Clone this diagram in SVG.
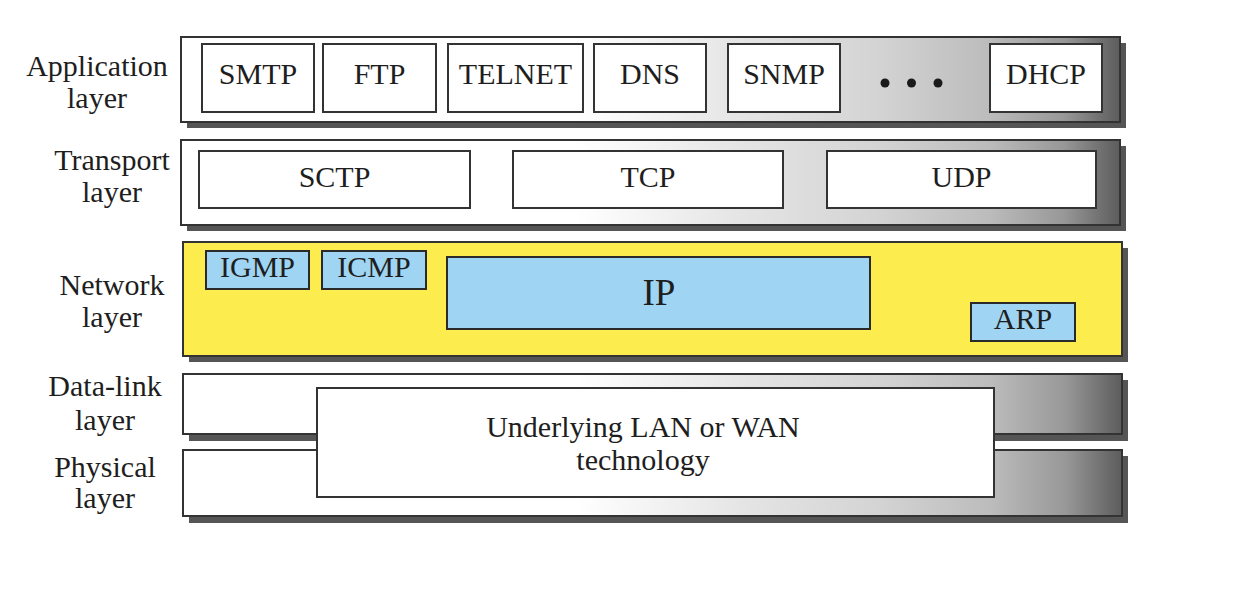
<svg xmlns="http://www.w3.org/2000/svg" width="1244" height="596" viewBox="0 0 1244 596">
<defs>
<linearGradient id="panelGrad" x1="0" y1="0" x2="1" y2="0">
<stop offset="0" stop-color="#ffffff"/>
<stop offset="0.42" stop-color="#ffffff"/>
<stop offset="0.6" stop-color="#e4e4e4"/>
<stop offset="0.74" stop-color="#d4d4d4"/>
<stop offset="0.86" stop-color="#bcbcbc"/>
<stop offset="0.94" stop-color="#989898"/>
<stop offset="1" stop-color="#5c5c5c"/>
</linearGradient>
<style>
.shadow{fill:#555555;}
.panel{fill:url(#panelGrad);stroke:#333333;stroke-width:2;}
.net{fill:#fdec4e;stroke:#333333;stroke-width:2;}
.box{fill:#ffffff;stroke:#333333;stroke-width:2;}
.bbox{fill:#9fd5f2;stroke:#2a2a2a;stroke-width:2;}
text{font-family:"Liberation Serif","Times New Roman",serif;fill:#1e1e1e;}
.lbl{font-size:30px;text-anchor:middle;}
.t{font-size:30px;text-anchor:middle;}
</style>
</defs>
<rect width="1244" height="596" fill="#ffffff"/>

<g id="labels">
<text class="lbl" x="97" y="76">Application</text>
<text class="lbl" x="97" y="108">layer</text>
<text class="lbl" x="112" y="170">Transport</text>
<text class="lbl" x="112" y="202">layer</text>
<text class="lbl" x="112" y="295">Network</text>
<text class="lbl" x="112" y="327">layer</text>
<text class="lbl" x="105" y="396">Data-link</text>
<text class="lbl" x="105" y="430">layer</text>
<text class="lbl" x="105" y="477">Physical</text>
<text class="lbl" x="105" y="508">layer</text>
</g>

<g id="application-layer">
<rect class="shadow" x="187" y="43" width="939" height="85"/>
<rect class="panel" x="181" y="37" width="939" height="85"/>
</g>
<g id="smtp"><rect class="box" x="202" y="44" width="112" height="68"/><text class="t" x="258" y="84">SMTP</text></g>
<g id="ftp"><rect class="box" x="323" y="44" width="113" height="68"/><text class="t" x="379.5" y="84">FTP</text></g>
<g id="telnet"><rect class="box" x="448" y="44" width="135" height="68"/><text class="t" x="515.5" y="84">TELNET</text></g>
<g id="dns"><rect class="box" x="594" y="44" width="112" height="68"/><text class="t" x="650" y="84">DNS</text></g>
<g id="snmp"><rect class="box" x="728" y="44" width="112" height="68"/><text class="t" x="784" y="84">SNMP</text></g>
<g id="ellipsis">
<circle cx="885" cy="83" r="4.5" fill="#1a1a1a"/>
<circle cx="911.5" cy="83" r="4.5" fill="#1a1a1a"/>
<circle cx="938" cy="83" r="4.5" fill="#1a1a1a"/>
</g>
<g id="dhcp"><rect class="box" x="990" y="44" width="112" height="68"/><text class="t" x="1046" y="84">DHCP</text></g>

<g id="transport-layer">
<rect class="shadow" x="187" y="146" width="939" height="85"/>
<rect class="panel" x="181" y="140" width="939" height="85"/>
</g>
<g id="sctp"><rect class="box" x="199" y="151" width="271" height="57"/><text class="t" x="334.5" y="187">SCTP</text></g>
<g id="tcp"><rect class="box" x="513" y="151" width="270" height="57"/><text class="t" x="648" y="187">TCP</text></g>
<g id="udp"><rect class="box" x="827" y="151" width="269" height="57"/><text class="t" x="961.5" y="187">UDP</text></g>

<g id="network-layer">
<rect class="shadow" x="189" y="248" width="939" height="114"/>
<rect class="net" x="183" y="242" width="939" height="114"/>
</g>
<g id="igmp"><rect class="bbox" x="206" y="251" width="103" height="38"/><text class="t" x="257.5" y="277">IGMP</text></g>
<g id="icmp"><rect class="bbox" x="322" y="251" width="104" height="38"/><text class="t" x="374" y="277">ICMP</text></g>
<g id="ip"><rect class="bbox" x="447" y="257" width="423" height="72"/><text x="659" y="305" style="font-size:37px;text-anchor:middle;">IP</text></g>
<g id="arp"><rect class="bbox" x="971" y="303" width="104" height="38"/><text class="t" x="1023" y="329">ARP</text></g>

<g id="data-link-layer">
<rect class="shadow" x="189" y="380" width="939" height="61"/>
<rect class="panel" x="183" y="374" width="939" height="60"/>
</g>
<g id="physical-layer">
<rect class="shadow" x="189" y="456" width="939" height="67"/>
<rect class="panel" x="183" y="450" width="939" height="66"/>
</g>
<g id="underlying">
<rect class="box" x="317" y="388" width="677" height="109"/>
<text class="t" x="643" y="437">Underlying LAN or WAN</text>
<text class="t" x="643" y="470">technology</text>
</g>

<g id="connectors"></g>
</svg>
